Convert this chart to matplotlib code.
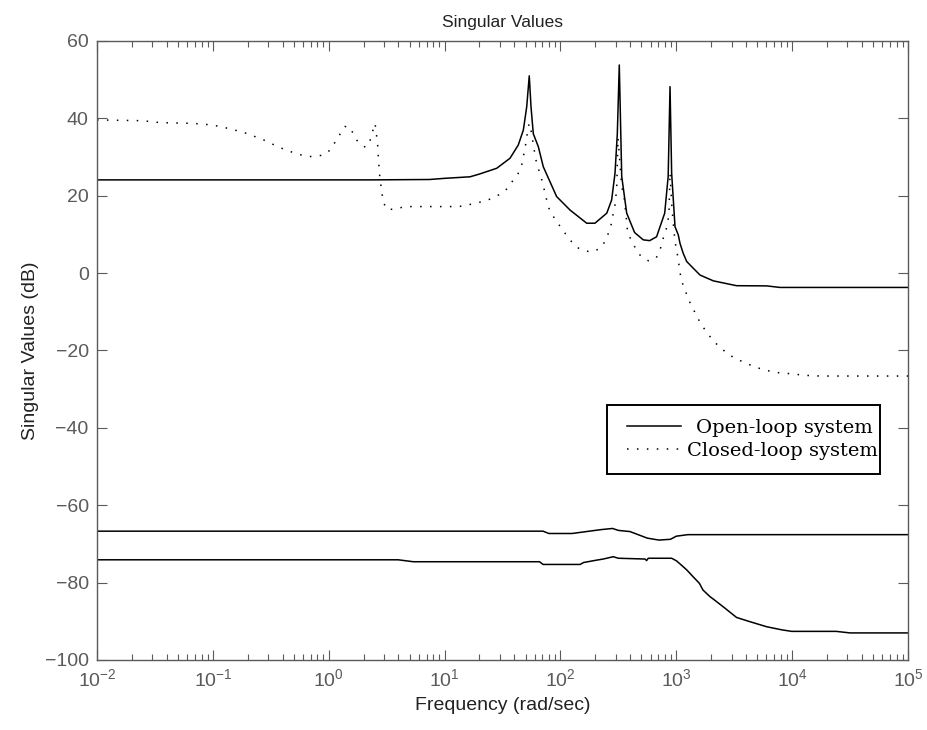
import numpy as np
import matplotlib
matplotlib.use("Agg")
import matplotlib.pyplot as plt
from matplotlib.ticker import FixedLocator, NullFormatter, LogFormatterSciNotation
from matplotlib.patches import Rectangle

# ---------------- data (log10 of frequency in rad/sec, value in dB) ----------------
open_top_logw = [-2.0, 0.36, 0.87, 1.0, 1.22, 1.30, 1.45, 1.565, 1.636, 1.68, 1.709,
                 1.731, 1.746, 1.766, 1.809, 1.852, 1.967, 2.083, 2.227, 2.298, 2.40,
                 2.442, 2.471, 2.491, 2.508, 2.529, 2.572, 2.64, 2.715, 2.77, 2.83,
                 2.90, 2.93, 2.946, 2.96, 2.989, 3.017, 3.032, 3.06, 3.09, 3.147,
                 3.205, 3.32, 3.52, 3.78, 3.895, 5.0]
open_top_db = [24.1, 24.1, 24.2, 24.5, 24.9, 25.6, 27.1, 29.7, 33.1, 37.0, 43.0,
               51.0, 43.0, 36.0, 32.7, 27.5, 19.8, 16.3, 12.9, 12.9, 15.5,
               18.9, 25.8, 36.0, 53.8, 25.0, 15.5, 10.5, 8.6, 8.4, 9.4,
               15.5, 25.0, 48.2, 25.8, 12.0, 9.9, 7.7, 5.1, 3.0, 1.25,
               -0.5, -2.0, -3.25, -3.3, -3.7, -3.7]

open_mid_logw = [-2.0, 1.85, 1.9, 2.1, 2.2, 2.35, 2.45, 2.5, 2.6, 2.75, 2.85, 2.95,
                 3.0, 3.1, 5.0]
open_mid_db = [-66.7, -66.7, -67.3, -67.3, -66.9, -66.3, -66.0, -66.5, -66.8, -68.5,
               -69.0, -68.8, -68.0, -67.6, -67.6]

open_low_logw = [-2.0, 0.6, 0.73, 1.82, 1.85, 2.17, 2.2, 2.31, 2.37, 2.456, 2.5,
                 2.73, 2.744, 2.758, 2.96, 3.003, 3.06, 3.09, 3.13, 3.2, 3.23, 3.29,
                 3.33, 3.42, 3.52, 3.636, 3.78, 3.91, 3.996, 4.38, 4.5, 5.0]
open_low_db = [-74.1, -74.1, -74.6, -74.6, -75.3, -75.3, -74.8, -74.2, -73.9, -73.3,
               -73.7, -73.9, -74.3, -73.7, -73.7, -74.4, -75.9, -76.7, -78.0, -80.2,
               -81.9, -83.6, -84.5, -86.6, -89.0, -90.1, -91.4, -92.2, -92.6, -92.6,
               -93.0, -93.0]

closed_logw = [-2.0, -1.61, -1.454, -1.165, -1.007, -0.85, -0.705, -0.56, -0.418,
               -0.274, -0.17, -0.043, 0.011, 0.054, 0.097, 0.14, 0.19, 0.218, 0.261,
               0.319, 0.356, 0.379, 0.40, 0.408, 0.417, 0.425, 0.428, 0.434, 0.44,
               0.449, 0.46, 0.471, 0.50, 0.578, 0.652, 0.96, 1.12, 1.19, 1.263, 1.35,
               1.42, 1.493, 1.55, 1.593, 1.636, 1.666, 1.68, 1.694, 1.709, 1.717,
               1.731, 1.746, 1.76, 1.774, 1.789, 1.809, 1.832, 1.852, 1.887, 1.91,
               1.99, 2.04, 2.088, 2.146, 2.212, 2.284, 2.35, 2.393, 2.422, 2.442,
               2.456, 2.471, 2.48, 2.486, 2.497, 2.529, 2.549, 2.566, 2.58, 2.615,
               2.652, 2.693, 2.758, 2.825, 2.86, 2.882, 2.908, 2.925, 2.937, 2.946,
               2.96, 2.974, 2.989, 3.003, 3.017, 3.038, 3.06, 3.09, 3.118, 3.153,
               3.19, 3.228, 3.27, 3.32, 3.377, 3.435, 3.498, 3.573, 3.642, 3.716,
               3.788, 3.866, 3.947, 4.024, 4.096, 4.24, 5.0]
closed_db = [39.6, 39.4, 38.9, 38.7, 38.3, 37.3, 36.1, 34.4, 32.4,
             30.8, 30.1, 30.5, 31.8, 33.8, 35.9, 37.9, 37.6, 35.4, 33.6,
             32.5, 34.2, 36.6, 38.7, 36.8, 34.6, 32.3, 29.9, 27.5, 25.2,
             23.0, 20.6, 18.4, 16.5, 16.5, 17.2, 17.2, 17.2, 17.5, 18.1, 18.6,
             19.5, 20.6, 22.1, 24.1, 25.8, 28.0, 30.1, 32.3, 34.8, 37.2,
             38.7, 37.0, 34.4, 31.8, 29.2, 27.1, 24.9, 22.6, 18.2, 15.9,
             12.4, 10.3, 8.4, 6.6, 5.7, 5.5, 6.6, 8.6, 11.0, 13.0,
             15.5, 17.6, 20.2, 22.3, 35.0, 22.3, 19.8, 15.0, 10.5, 8.3,
             6.2, 4.4, 3.2, 3.8, 6.0, 8.6, 10.7, 12.9, 15.5, 26.0,
             18.0, 12.9, 8.1, 6.0, 3.4, -0.9, -3.3, -5.5, -7.6, -9.7,
             -11.9, -13.8, -15.6, -17.5, -19.2, -20.6, -21.9, -22.9, -23.8, -24.6,
             -25.2, -25.7, -25.9, -26.1, -26.4, -26.6, -26.6]

title = "Singular Values"
xlabel = "Frequency (rad/sec)"
ylabel = "Singular Values (dB)"
legend_labels = ["Open-loop system", "Closed-loop system"]
yticks = [-100, -80, -60, -40, -20, 0, 20, 40, 60]
xtick_exponents = [-2, -1, 0, 1, 2, 3, 4, 5]
xlim = (1e-2, 1e5)
ylim = (-100, 60)

# ---------------- figure ----------------
plt.rcParams['font.family'] = ['Liberation Sans', 'DejaVu Sans']
gray = '#5a5a5a'
W, H = 927, 730
AX_L, AX_R, AX_T, AX_B = 97, 908, 41, 660

fig = plt.figure(figsize=(W / 100, H / 100), dpi=100)
ax = fig.add_axes([AX_L / W, 1 - AX_B / H, (AX_R - AX_L) / W, (AX_B - AX_T) / H])

def w(lw):
    return 10.0 ** np.asarray(lw)

def axfrac(px, py):
    return ((px - AX_L) / (AX_R - AX_L), (AX_B - py) / (AX_B - AX_T))

l1, = ax.plot(w(open_top_logw), open_top_db, color='black', lw=1.1)
ax.plot(w(open_mid_logw), open_mid_db, color='black', lw=1.1)
ax.plot(w(open_low_logw), open_low_db, color='black', lw=1.1)
l2, = ax.plot(w(closed_logw), closed_db, color='black', lw=1.1, linestyle=(0, (1.0, 5.5)))

ax.set_xscale('log')
ax.set_xlim(*xlim)
ax.set_ylim(*ylim)
ax.yaxis.set_major_locator(FixedLocator(yticks))
majors = [10.0 ** e for e in xtick_exponents]
minors = [m * 10.0 ** e for e in xtick_exponents[:-1] for m in range(2, 10)]
ax.xaxis.set_major_locator(FixedLocator(majors))
ax.xaxis.set_major_formatter(LogFormatterSciNotation())
ax.xaxis.set_minor_locator(FixedLocator(minors))
ax.xaxis.set_minor_formatter(NullFormatter())

ax.tick_params(which='both', direction='in', top=True, right=True, colors=gray,
               labelsize=14, width=0.8)
ax.tick_params(which='major', length=7, pad=6)
ax.tick_params(which='minor', length=4)
for s in ax.spines.values():
    s.set_color(gray)
    s.set_linewidth(1.0)

ax.set_title(title, fontsize=12.5, color='#222222', pad=10)
ax.set_xlabel(xlabel, fontsize=14, color='#222222', labelpad=5)
ax.set_ylabel(ylabel, fontsize=14, color='#222222', labelpad=4)

# legend frame
bx0, by0, bx1, by1 = 607, 405, 880, 474
fx, fy = axfrac(bx0, by1)
frame = Rectangle((fx, fy), (bx1 - bx0) / (AX_R - AX_L), (by1 - by0) / (AX_B - AX_T),
                  transform=ax.transAxes, facecolor='white', edgecolor='black',
                  lw=1.4, zorder=4)
ax.add_patch(frame)

# legend entries: text centred in the space right of the sample line
fs = 14
em = fs * 100 / 72
hl = 54 / em
common = dict(loc='upper left', frameon=False,
              prop={'family': 'DejaVu Serif', 'size': fs},
              handlelength=hl, borderpad=0.35, borderaxespad=0)
leg1 = ax.legend([l1], [legend_labels[0]], bbox_to_anchor=axfrac(620, 412),
                 handletextpad=15 / em, **common)
leg1.set_zorder(5)
ax.add_artist(leg1)
leg2 = ax.legend([l2], [legend_labels[1]], bbox_to_anchor=axfrac(620, 435),
                 handletextpad=6 / em, **common)
leg2.set_zorder(5)

fig.savefig('out.png', dpi=100, facecolor='white')
